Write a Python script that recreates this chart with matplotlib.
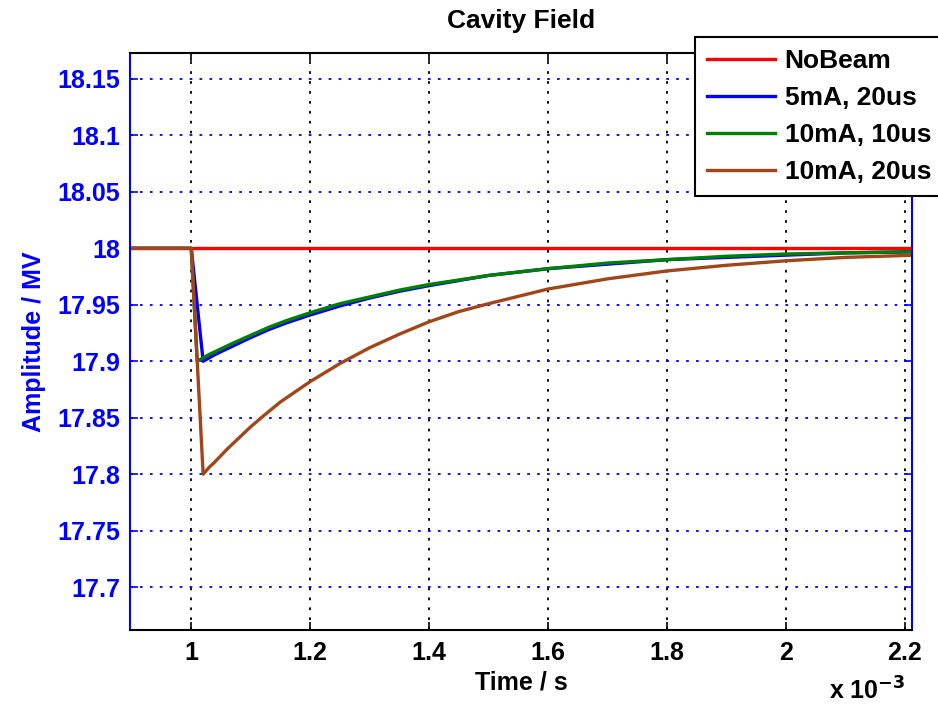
import numpy as np
import matplotlib
matplotlib.use("Agg")
import matplotlib.pyplot as plt

# time axis in units of 1e-3 s
t_nobeam = [0.9, 2.22]
v_nobeam = [18.0, 18.0]

t_5ma = [0.9, 1.0, 1.02, 1.03, 1.04, 1.06, 1.08, 1.1, 1.13, 1.16, 1.2, 1.25, 1.3, 1.35, 1.4, 1.5,
         1.6, 1.7, 1.8, 1.9, 2.0, 2.1, 2.22]
v_5ma = [18.0, 18.0, 17.900, 17.903, 17.906, 17.911, 17.916, 17.921, 17.928, 17.934, 17.941,
         17.949, 17.956, 17.962, 17.967, 17.976, 17.982, 17.986, 17.990, 17.992, 17.994, 17.996, 17.997]

t_10ma10 = [0.9, 1.0, 1.01, 1.02, 1.03, 1.05, 1.07, 1.1, 1.13, 1.16, 1.2, 1.25, 1.3, 1.35, 1.4, 1.5,
            1.6, 1.7, 1.8, 1.9, 2.0, 2.1, 2.22]
v_10ma10 = [18.0, 18.0, 17.900, 17.903, 17.906, 17.911, 17.916, 17.923, 17.930, 17.936, 17.943,
            17.951, 17.957, 17.963, 17.968, 17.976, 17.982, 17.987, 17.990, 17.993, 17.995, 17.996, 17.997]

t_10ma20 = [0.9, 1.0, 1.02, 1.03, 1.04, 1.06, 1.08, 1.1, 1.12, 1.15, 1.2, 1.25, 1.3, 1.35, 1.4,
            1.45, 1.5, 1.6, 1.7, 1.8, 1.9, 2.0, 2.1, 2.22]
v_10ma20 = [18.0, 18.0, 17.800, 17.806, 17.811, 17.822, 17.832, 17.842, 17.851, 17.864, 17.882,
            17.898, 17.912, 17.924, 17.935, 17.944, 17.951, 17.964, 17.973, 17.980, 17.985, 17.989,
            17.992, 17.994]

labels = ["NoBeam", "5mA, 20us", "10mA, 10us", "10mA, 20us"]
colors = ["#ff0000", "#0000ff", "#008000", "#a0461a"]

x_ticks = [1.0, 1.2, 1.4, 1.6, 1.8, 2.0, 2.2]
y_ticks = [17.7, 17.75, 17.8, 17.85, 17.9, 17.95, 18.0, 18.05, 18.1, 18.15]

plt.rcParams["font.family"] = ["Liberation Sans", "DejaVu Sans"]
plt.rcParams["font.weight"] = "bold"

fig = plt.figure(figsize=(9.38, 7.08), dpi=100)
ax = fig.add_axes([0.1386, 0.1102, 0.8337, 0.8149])

series = [(t_nobeam, v_nobeam), (t_5ma, v_5ma), (t_10ma10, v_10ma10), (t_10ma20, v_10ma20)]
for (t, v), lab, c in zip(series, labels, colors):
    ax.plot(t, v, color=c, lw=2.4, label=lab, solid_joinstyle="round")

ax.set_xlim(0.897, 2.212)
ax.set_ylim(17.662, 18.173)
ax.set_xticks(x_ticks)
ax.set_yticks(y_ticks)
ax.set_xticklabels([f"{x:g}" for x in x_ticks])
ax.set_yticklabels([f"{y:g}" for y in y_ticks])

ax.tick_params(direction="in", length=6, width=1.2, top=True, right=True, labelsize=18)
ax.tick_params(axis="x", pad=8)
ax.tick_params(axis="y", colors="blue", pad=7)

ax.xaxis.grid(True, color="black", linestyle=(0, (1.5, 4)), lw=1.3)
ax.yaxis.grid(True, color="blue", linestyle=(0, (1.5, 4)), lw=1.3)

for s in ["left", "right"]:
    ax.spines[s].set_color("blue")
for s in ["top", "bottom"]:
    ax.spines[s].set_color("black")
for s in ax.spines.values():
    s.set_linewidth(1.5)

ax.set_title("Cavity Field", fontsize=19, fontweight="bold", pad=18)
ax.set_xlabel("Time / s", fontsize=18, fontweight="bold", labelpad=4)
ax.set_ylabel("Amplitude / MV", fontsize=18, fontweight="bold", color="blue", labelpad=8)
fig.text(0.925, 0.005, r"x 10$^{-3}$", fontsize=18, fontweight="bold", ha="center", va="bottom")

leg = ax.legend(loc="upper left", bbox_to_anchor=(695 / 938, 1 - 37 / 708),
                bbox_transform=fig.transFigure, borderaxespad=0, fancybox=False,
                framealpha=1, edgecolor="black", fontsize=19, handlelength=2.6,
                handletextpad=0.35, labelspacing=0.5, borderpad=0.45)
leg.get_frame().set_linewidth(1.5)

fig.savefig("out.png", dpi=100)
